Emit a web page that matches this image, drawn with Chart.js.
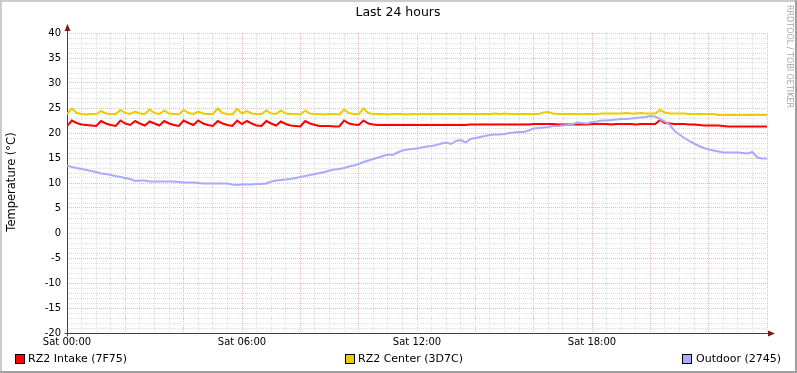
<!DOCTYPE html>
<html><head><meta charset="utf-8">
<script src="https://cdn.jsdelivr.net/npm/chart.js@4"></script>
<style>html,body{margin:0;padding:0;background:#fff;}canvas{display:block;}</style>
</head><body>
<canvas id="c" width="797" height="373"></canvas>
<script>
// ---- data (one sample every 10 minutes, Sat 00:00 .. Sun 00:00) ----
const sampleMinutes = 10;
const intake = [21.4,22.5,22.0,21.7,21.6,21.5,21.4,22.4,21.9,21.6,
 21.4,22.5,21.9,21.6,22.4,21.9,21.5,22.3,21.9,21.5,
 22.4,21.9,21.6,21.4,22.5,22.0,21.6,22.5,21.9,21.6,
 21.4,22.4,21.9,21.6,21.4,22.5,21.8,22.4,21.9,21.5,
 21.4,22.4,21.9,21.5,22.3,21.8,21.5,21.4,21.3,22.4,
 21.9,21.6,21.4,21.4,21.4,21.3,21.3,22.5,21.9,21.7,
 21.6,22.5,21.9,21.7,21.6,21.6,21.6,21.6,21.6,21.6,
 21.6,21.6,21.6,21.6,21.6,21.6,21.6,21.6,21.6,21.6,
 21.6,21.6,21.6,21.7,21.7,21.7,21.7,21.7,21.7,21.7,
 21.7,21.7,21.7,21.7,21.7,21.7,21.8,21.8,21.8,21.8,
 21.8,21.7,21.7,21.7,21.7,21.7,21.7,21.7,21.8,21.8,
 21.8,21.8,21.7,21.8,21.8,21.8,21.8,21.7,21.8,21.8,
 21.8,21.8,22.6,22.0,21.9,21.8,21.8,21.8,21.7,21.7,
 21.6,21.5,21.5,21.5,21.5,21.4,21.3,21.3,21.3,21.3,
 21.3,21.3,21.3,21.3,21.3];
const center = [23.8,24.9,24.0,23.8,23.7,23.8,23.8,24.4,23.9,23.8,
 23.8,24.6,24.0,23.8,24.3,23.9,23.8,24.7,24.0,23.8,
 24.5,23.9,23.8,23.7,24.6,24.0,23.8,24.3,23.9,23.8,
 23.8,24.9,24.0,23.8,23.7,24.8,23.9,24.4,23.9,23.8,
 23.8,24.5,23.9,23.8,24.5,23.9,23.8,23.8,23.7,24.5,
 23.9,23.8,23.8,23.7,23.8,23.8,23.7,24.7,24.0,23.8,
 23.8,24.9,24.0,23.8,23.8,23.8,23.7,23.8,23.8,23.8,
 23.7,23.8,23.8,23.8,23.8,23.8,23.8,23.8,23.8,23.8,
 23.8,23.8,23.8,23.8,23.8,23.8,23.8,23.8,23.9,23.8,
 23.9,23.8,23.8,23.8,23.8,23.8,23.8,23.8,24.1,24.2,
 23.9,23.8,23.8,23.8,23.8,23.8,23.8,23.8,23.8,23.8,
 23.9,23.9,23.9,23.9,23.9,24.0,23.9,23.9,24.0,23.9,
 23.9,23.9,24.6,24.1,23.9,23.9,23.9,23.9,23.8,23.8,
 23.8,23.8,23.8,23.8,23.6,23.6,23.6,23.6,23.6,23.6,
 23.6,23.6,23.6,23.6,23.6];
const outdoor = [13.5,13.2,13.0,12.8,12.6,12.4,12.2,11.9,11.8,11.6,
 11.4,11.2,11.0,10.8,10.4,10.5,10.5,10.3,10.3,10.3,
 10.3,10.3,10.3,10.2,10.1,10.1,10.1,10.0,9.9,9.9,
 9.9,9.9,9.9,9.9,9.7,9.6,9.7,9.7,9.7,9.8,
 9.8,9.9,10.3,10.5,10.6,10.7,10.8,11.0,11.2,11.4,
 11.6,11.8,12.0,12.2,12.5,12.7,12.8,13.0,13.3,13.5,
 13.8,14.2,14.5,14.8,15.1,15.4,15.7,15.6,16.1,16.5,
 16.7,16.8,16.9,17.1,17.3,17.4,17.6,17.9,18.1,17.8,
 18.4,18.6,18.1,18.8,19.0,19.2,19.4,19.6,19.7,19.7,
 19.8,20.0,20.1,20.2,20.2,20.5,20.9,21.0,21.1,21.2,
 21.4,21.4,21.5,21.6,21.8,22.1,22.0,21.9,22.2,22.3,
 22.5,22.5,22.6,22.7,22.8,22.8,22.9,23.0,23.1,23.2,
 23.4,23.3,22.8,22.3,21.6,20.4,19.7,19.0,18.4,17.9,
 17.4,17.0,16.7,16.5,16.3,16.1,16.1,16.1,16.1,16.0,
 15.9,16.2,15.1,14.9,14.9];
const seriesNames = ['RZ2 Intake (7F75)', 'RZ2 Center (3D7C)', 'Outdoor (2745)'];
const seriesColors = ['#FF0000', '#EACC00', '#AAAAFF'];
const xTickMinutes = [0, 360, 720, 1080];
const xTickLabels = ['Sat 00:00', 'Sat 06:00', 'Sat 12:00', 'Sat 18:00'];
const yLabelStep = 5;
const titleText = 'Last 24 hours';
const yTitleText = 'Temperature (°C)';
const watermarkText = 'RRDTOOL / TOBI OETIKER';

// ---- build ----
const toPoints = arr => arr.map((v, i) => ({x: i * sampleMinutes, y: v}));
const FONT = 'DejaVu Sans';
const MINOR = '#dddddd', MAJOR = '#ecb8b8';
const legendPos = [{box: 15, text: 28}, {box: 345, text: 358}, {box: 682, text: 696}];

const deco = {
  id: 'deco',
  beforeDraw(chart) {
    const c = chart.ctx;
    c.save(); c.fillStyle = '#fff'; c.fillRect(0, 0, chart.width, chart.height); c.restore();
  },
  beforeDatasetsDraw(chart) {
    const c = chart.ctx, a = chart.chartArea;
    const xs = chart.scales.x, ys = chart.scales.y;
    const x0 = Math.round(xs.getPixelForValue(0)) + 0.5;
    const yb = Math.round(ys.getPixelForValue(-20)) + 0.5;
    const yt = ys.getPixelForValue(40);
    c.save();
    c.strokeStyle = '#404040'; c.lineWidth = 1;
    c.beginPath(); c.moveTo(x0 - 3, yb); c.lineTo(a.right + 4, yb); c.stroke();
    c.beginPath(); c.moveTo(x0, yb + 3); c.lineTo(x0, yt - 4); c.stroke();
    c.fillStyle = '#7f1a1a';
    c.beginPath(); c.moveTo(a.right + 1, yb - 3); c.lineTo(a.right + 8, yb); c.lineTo(a.right + 1, yb + 3); c.closePath(); c.fill();
    c.beginPath(); c.moveTo(x0 - 3, yt - 2); c.lineTo(x0, yt - 9); c.lineTo(x0 + 3, yt - 2); c.closePath(); c.fill();
    c.restore();
  },
  afterDraw(chart) {
    const c = chart.ctx, W = chart.width, H = chart.height;
    c.save();
    c.fillStyle = '#000';
    c.font = '12.5px "' + FONT + '"'; c.textAlign = 'center'; c.textBaseline = 'middle';
    c.fillText(titleText, 398, 13);
    // y title
    c.save(); c.translate(12, 182); c.rotate(-Math.PI / 2);
    c.font = '11.5px "' + FONT + '"'; c.fillText(yTitleText, 0, 0); c.restore();
    // watermark
    c.save(); c.translate(789, 5); c.rotate(Math.PI / 2);
    c.fillStyle = '#a8a8a8'; c.font = '8px "' + FONT + '"'; c.textAlign = 'left';
    c.fillText(watermarkText, 0, 0); c.restore();
    // legend
    c.font = '11px "' + FONT + '"'; c.textAlign = 'left'; c.textBaseline = 'middle';
    seriesNames.forEach((n, i) => {
      const p = legendPos[i];
      c.fillStyle = seriesColors[i]; c.fillRect(p.box, 354, 10, 10);
      c.strokeStyle = '#000'; c.lineWidth = 1; c.strokeRect(p.box + 0.5, 354.5, 9, 9);
      c.fillStyle = '#000'; c.fillText(n, p.text, 359.5);
    });
    // frame
    c.fillStyle = '#cccccc'; c.fillRect(0, 0, W, 2); c.fillRect(0, 0, 2, H);
    c.fillStyle = '#a0a0a0'; c.fillRect(0, H - 2, W, 2); c.fillRect(W - 2, 0, 2, H);
    c.restore();
  }
};

new Chart(document.getElementById('c'), {
  type: 'line',
  data: {
    datasets: [
      {label: seriesNames[2], data: toPoints(outdoor), borderColor: seriesColors[2]},
      {label: seriesNames[1], data: toPoints(center), borderColor: seriesColors[1]},
      {label: seriesNames[0], data: toPoints(intake), borderColor: seriesColors[0]}
    ].map(d => Object.assign(d, {borderWidth: 2, pointRadius: 0, tension: 0, fill: false}))
  },
  options: {
    responsive: false, animation: false, devicePixelRatio: 1,
    layout: {padding: {left: 0, top: 33, right: 30, bottom: 0}},
    plugins: {legend: {display: false}, title: {display: false}, tooltip: {enabled: false}},
    scales: {
      x: {
        type: 'linear', min: 0, max: 1440,
        afterFit: s => { s.height = 40; },
        ticks: {
          stepSize: 30, autoSkip: false, maxRotation: 0, padding: 3,
          color: '#000', font: {family: FONT, size: 10},
          callback: v => { const k = xTickMinutes.indexOf(v); return k >= 0 ? xTickLabels[k] : ''; }
        },
        grid: {drawTicks: false, lineWidth: 1, color: ctx => (ctx.tick && ctx.tick.value % 120 === 0) ? MAJOR : MINOR},
        border: {display: false, dash: [1, 1]}
      },
      y: {
        type: 'linear', min: -20, max: 40,
        afterFit: s => { s.width = 67; },
        ticks: {
          stepSize: 1, autoSkip: false, padding: 6,
          color: '#000', font: {family: FONT, size: 10},
          callback: v => (v % yLabelStep === 0) ? String(v) : ''
        },
        grid: {drawTicks: false, lineWidth: 1, color: ctx => (ctx.tick && ctx.tick.value % yLabelStep === 0) ? MAJOR : MINOR},
        border: {display: false, dash: [1, 1]}
      }
    }
  },
  plugins: [deco]
});
</script>
</body></html>
